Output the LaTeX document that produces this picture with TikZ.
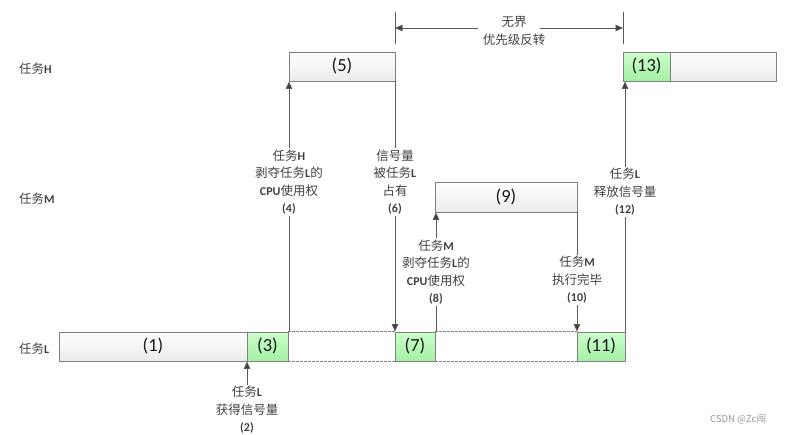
\documentclass[tikz,border=0pt]{standalone}
\usepackage{fontspec}
\setmainfont{Carlito}
\newfontfamily\cjk{Noto Sans CJK SC}
\usetikzlibrary{arrows.meta,shadows}
\newcommand{\zh}[1]{{\cjk\mdseries\fontsize{12.5}{17.5}\selectfont #1}}
\definecolor{bordergray}{HTML}{808080}
\definecolor{txtgray}{HTML}{404040}
\definecolor{greentop}{HTML}{CCFFCC}
\definecolor{greenbot}{HTML}{A4F0A4}
\tikzset{
  box/.style={draw=bordergray, line width=0.9pt, rectangle, inner sep=0pt,
    minimum height=29pt, top color=white, bottom color=black!8,
    font=\fontsize{18.5}{20}\selectfont, text=black!90,
    drop shadow={shadow xshift=1.2pt, shadow yshift=-1.2pt, opacity=0.25}},
  gbox/.style={box, top color=greentop, bottom color=greenbot},
  lbl/.style={align=center, inner sep=1pt, text=txtgray,
    font=\fontsize{12}{17.5}\selectfont\bfseries},
  rowlbl/.style={anchor=west, inner sep=0pt, text=txtgray,
    font=\fontsize{12}{14}\selectfont\bfseries},
  arr/.style={draw=black!65, line width=0.8pt,
    -{Triangle[width=6.5pt,length=7.5pt,fill=black!75]}},
  ln/.style={draw=black!65, line width=0.8pt},
  dsh/.style={draw=black!50, line width=0.7pt, dashed, dash pattern=on 2.5pt off 1.5pt},
}
\begin{document}
\begin{tikzpicture}[x=1pt,y=-1pt]
\useasboundingbox (0,0) rectangle (786,434);

% row labels
\node[rowlbl] (rh) at (19,69) {\zh{任务}H};
\node[rowlbl] (rm) at (19,199) {\zh{任务}M};
\node[rowlbl] (rl) at (19,349) {\zh{任务}L};

% task L row
\node[box, minimum width=188pt] (b1) at (153,346.5) {(1)};
\node[gbox, minimum width=41pt] (b3) at (267.5,346.5) {(3)};
\node[gbox, minimum width=40pt] (b7) at (415,346.5) {(7)};
\node[gbox, minimum width=48pt] (b11) at (601,346.5) {(11)};
\draw[dsh] (b3.north east) -- (b7.north west);
\draw[dsh] (b3.south east) -- (b7.south west);
\draw[dsh] (b7.north east) -- (b11.north west);
\draw[dsh] (b7.south east) -- (b11.south west);

% task H row
\node[box, minimum width=106pt] (b5) at (342,66.5) {(5)};
\node[gbox, minimum width=47pt] (b13) at (646.5,66.5) {(13)};
\node[box, minimum width=106pt] (b13w) at (723,66.5) {};

% task M row
\node[box, minimum width=142pt, minimum height=30pt] (b9) at (506,197) {(9)};

% labels with arrows
\node[lbl] (t2) at (247,410) {\zh{任务}L\\\zh{获得信号量}\\(2)};
\draw[arr] (t2.north) -- (t2.north |- b1.south);

\node[lbl] (t4) at (289,182) {\zh{任务}H\\\zh{剥夺任务}L\zh{的}\\CPU\zh{使用权}\\(4)};
\draw[arr] (t4.north) -- (t4.north |- b5.south);
\draw[ln] (t4.south) -- (t4.south |- b3.north);

\node[lbl] (t6) at (395,182) {\zh{信号量}\\\zh{被任务}L\\\zh{占有}\\(6)};
\draw[ln] (t6.north |- b5.south) -- (t6.north);
\draw[arr] (t6.south) -- (t6.south |- b7.north);

\node[lbl] (t8) at (436,272) {\zh{任务}M\\\zh{剥夺任务}L\zh{的}\\CPU\zh{使用权}\\(8)};
\draw[arr] (t8.north) -- (t8.north |- b9.south);
\draw[ln] (t8.south) -- (t8.south |- b7.north);

\node[lbl] (t10) at (577,280) {\zh{任务}M\\\zh{执行完毕}\\(10)};
\draw[ln] (t10.north |- b9.south) -- (t10.north);
\draw[arr] (t10.south) -- (t10.south |- b11.north);

\node[lbl] (t12) at (625,192) {\zh{任务}L\\\zh{释放信号量}\\(12)};
\draw[arr] (t12.north) -- (t12.north |- b13.south);
\draw[ln] (t12.south) -- (t12.south |- b11.north);

% top span
\coordinate (tl1) at (395,12);
\coordinate (tl2) at (395,44);
\coordinate (tr1) at (623,12);
\coordinate (tr2) at (623,44);
\draw[ln] (tl1) -- (tl2);
\draw[ln] (tr1) -- (tr2);
\node[lbl] (top) at (514,31) {\zh{无界}\\\zh{优先级反转}};
\coordinate (al) at (478,28);
\coordinate (ar) at (540,28);
\draw[arr] (al) -- (al -| tl1);
\draw[arr] (ar) -- (ar -| tr1);

% watermark
\node[anchor=west, inner sep=0pt, text=black!40, font=\cjk\fontsize{9.5}{11}\selectfont] (wm) at (710,419) {CSDN @Zc闯};
\end{tikzpicture}
\end{document}
